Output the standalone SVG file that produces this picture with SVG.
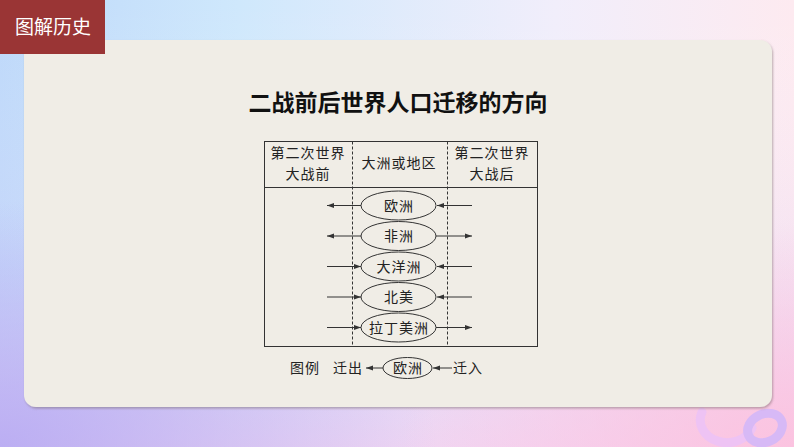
<svg xmlns="http://www.w3.org/2000/svg" width="794" height="447" viewBox="0 0 794 447">
<defs>
<linearGradient id="bgH" x1="0" y1="0" x2="1" y2="0">
<stop offset="0" stop-color="#bdd8fa"/>
<stop offset="0.3" stop-color="#cfe8fc"/>
<stop offset="0.7" stop-color="#f1eefb"/>
<stop offset="1" stop-color="#fdeaf0"/>
</linearGradient>
<linearGradient id="bgV" x1="0" y1="0" x2="0" y2="1">
<stop offset="0" stop-color="#ffffff" stop-opacity="0"/>
<stop offset="0.6" stop-color="#dccbf6" stop-opacity="0.25"/>
<stop offset="1" stop-color="#f5cdef" stop-opacity="0.7"/>
</linearGradient>
<radialGradient id="bl" cx="0" cy="1" r="0.55">
<stop offset="0" stop-color="#b4a8f3" stop-opacity="0.85"/>
<stop offset="1" stop-color="#b4a8f3" stop-opacity="0"/>
</radialGradient>
<radialGradient id="br" cx="1" cy="1" r="0.5">
<stop offset="0" stop-color="#fbc3e0"/>
<stop offset="1" stop-color="#fbc3e0" stop-opacity="0"/>
</radialGradient>
<filter id="sh" x="-5%" y="-5%" width="110%" height="110%">
<feDropShadow dx="1" dy="1.5" stdDeviation="1" flood-color="#6a5a5a" flood-opacity="0.45"/>
</filter>
<marker id="ah" markerWidth="8" markerHeight="6" refX="7" refY="3" orient="auto" markerUnits="userSpaceOnUse">
<path d="M0,0.5 L7,3 L0,5.5 z" fill="#333"/>
</marker>
<style>
.t{font-family:"Liberation Serif","Noto Sans CJK SC",serif;font-size:14px;fill:#222;letter-spacing:1px}
.ell{fill:none;stroke:#333;stroke-width:1}
.ln{stroke:#333;stroke-width:1;fill:none}
.dash{stroke:#333;stroke-width:1;stroke-dasharray:3 2}
.ar{stroke:#333;stroke-width:1;marker-end:url(#ah)}
</style>
</defs>
<g id="background">
<rect x="0" y="0" width="794" height="447" fill="url(#bgH)"/>
<rect x="0" y="0" width="794" height="447" fill="url(#bgV)"/>
<rect x="0" y="0" width="794" height="447" fill="url(#bl)"/>
<rect x="0" y="0" width="794" height="447" fill="url(#br)"/>
<path d="M702,412 A26,22 0 0 0 752,428" fill="none" stroke="#eec3f4" stroke-width="9" stroke-linecap="round"/>
<ellipse cx="765" cy="428" rx="18" ry="14" transform="rotate(-25 765 428)" fill="none" stroke="#d7b9f6" stroke-width="9"/>
</g>
<g id="card">
<rect x="24" y="40" width="748" height="367" rx="12" fill="#f0ede6" filter="url(#sh)"/>
</g>
<g id="tab">
<rect x="0" y="0" width="105" height="54" fill="#9a3535"/>
<text x="53" y="34" text-anchor="middle" font-family="'Noto Sans CJK SC','Noto Sans',sans-serif" font-size="19" fill="#ffffff">图解历史</text>
</g>
<g id="title">
<text x="398" y="111" text-anchor="middle" font-family="'Noto Sans CJK SC','Noto Sans',sans-serif" font-size="23" font-weight="bold" fill="#111">二战前后世界人口迁移的方向</text>
</g>
<g id="table">
<rect x="264.5" y="141.5" width="273" height="205" class="ln"/>
<line x1="264.5" y1="187.5" x2="537.5" y2="187.5" class="ln"/>
<line x1="352.5" y1="141.5" x2="352.5" y2="346.5" class="dash"/>
<line x1="447.5" y1="141.5" x2="447.5" y2="346.5" class="dash"/>
<text x="308" y="158" text-anchor="middle" class="t">第二次世界</text>
<text x="308" y="179" text-anchor="middle" class="t">大战前</text>
<text x="399" y="168" text-anchor="middle" class="t">大洲或地区</text>
<text x="492" y="158" text-anchor="middle" class="t">第二次世界</text>
<text x="492" y="179" text-anchor="middle" class="t">大战后</text>
</g>
<g id="node-europe">
<ellipse cx="398.5" cy="205.5" rx="37.5" ry="14.5" class="ell"/>
<text x="399" y="210.5" text-anchor="middle" class="t">欧洲</text>
</g>
<g id="node-africa">
<ellipse cx="398.5" cy="236" rx="37.5" ry="14.5" class="ell"/>
<text x="399" y="241" text-anchor="middle" class="t">非洲</text>
</g>
<g id="node-oceania">
<ellipse cx="398.5" cy="266.5" rx="37.5" ry="14.5" class="ell"/>
<text x="399" y="271.5" text-anchor="middle" class="t">大洋洲</text>
</g>
<g id="node-northamerica">
<ellipse cx="398.5" cy="297" rx="37.5" ry="14.5" class="ell"/>
<text x="399" y="302" text-anchor="middle" class="t">北美</text>
</g>
<g id="node-latinamerica">
<ellipse cx="398.5" cy="327.5" rx="37.5" ry="14.5" class="ell"/>
<text x="399" y="332.5" text-anchor="middle" class="t" letter-spacing="0">拉丁美洲</text>
</g>
<g id="connectors">
<line x1="361" y1="205.5" x2="327" y2="205.5" class="ar"/>
<line x1="472" y1="205.5" x2="437" y2="205.5" class="ar"/>
<line x1="361" y1="236" x2="327" y2="236" class="ar"/>
<line x1="436" y1="236" x2="472" y2="236" class="ar"/>
<line x1="327" y1="266.5" x2="361" y2="266.5" class="ar"/>
<line x1="472" y1="266.5" x2="437" y2="266.5" class="ar"/>
<line x1="327" y1="297" x2="361" y2="297" class="ar"/>
<line x1="472" y1="297" x2="437" y2="297" class="ar"/>
<line x1="327" y1="327.5" x2="361" y2="327.5" class="ar"/>
<line x1="436" y1="327.5" x2="472" y2="327.5" class="ar"/>
<line x1="383" y1="368" x2="366" y2="368" class="ar"/>
<line x1="452" y1="368" x2="433" y2="368" class="ar"/>
</g>
<g id="legend">
<text x="290" y="373" class="t">图例</text>
<text x="333" y="373" class="t">迁出</text>
<ellipse cx="407.5" cy="368" rx="24.5" ry="10.5" class="ell"/>
<text x="408" y="373" text-anchor="middle" class="t">欧洲</text>
<text x="453" y="373" class="t">迁入</text>
</g>
</svg>
